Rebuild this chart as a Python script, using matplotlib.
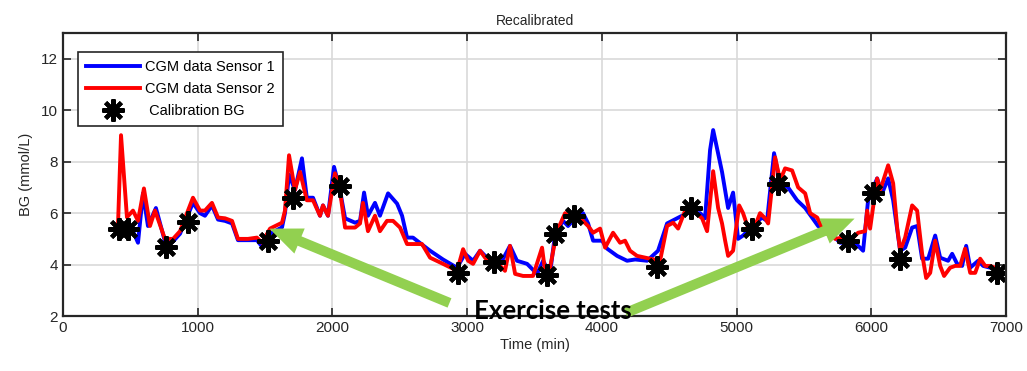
import numpy as np
import matplotlib.pyplot as plt

plt.rcParams['font.family'] = ['Liberation Sans', 'DejaVu Sans']

# Sensor 1 (blue) CGM trace: time (min), BG (mmol/L)
t1 = [408, 475, 520, 557, 594, 631, 690, 757, 817, 869, 965, 1017, 1054, 1106,
      1151, 1203, 1255, 1299, 1373, 1440, 1477, 1537, 1626, 1648, 1678, 1722,
      1774, 1810, 1856, 1908, 1930, 1967, 2012, 2056, 2094, 2168, 2205, 2235,
      2264, 2316, 2353, 2413, 2480, 2517, 2554, 2598, 2725, 2821, 2925, 2984,
      3044, 3096, 3170, 3244, 3318, 3370, 3445, 3519, 3564, 3615, 3653, 3712,
      3749, 3801, 3860, 3898, 3935, 4002, 4039, 4113, 4187, 4247, 4336, 4417,
      4484, 4632, 4729, 4766, 4803, 4826, 4892, 4937, 4974, 5011, 5048, 5137,
      5189, 5226, 5278, 5323, 5382, 5449, 5509, 5560, 5605, 5672, 5716, 5768,
      5828, 5843, 5902, 5939, 5976, 6043, 6080, 6125, 6162, 6214, 6251, 6303,
      6340, 6377, 6422, 6474, 6511, 6570, 6600, 6637, 6674, 6704, 6734, 6793,
      6830, 6882, 6934]
bg1 = [5.4, 5.5, 5.3, 4.85, 6.77, 5.5, 6.2, 4.9, 4.9, 5.2, 6.4, 6.0, 5.9, 6.3,
       5.75, 5.7, 5.6, 4.95, 4.95, 4.95, 4.7, 5.2, 5.45, 6.0, 7.5, 6.9,
       8.13, 6.6, 6.6, 5.9, 6.3, 5.9, 7.8, 6.9, 5.8, 5.63, 5.7, 6.8,
       5.9, 6.4, 5.9, 6.77, 6.37, 5.9, 5.05, 5.05, 4.54, 4.2, 3.88, 4.42,
       4.15, 4.54, 4.15, 4.0, 4.73, 4.15, 4.03, 3.64, 4.15, 3.64, 5.2, 5.7,
       5.5, 5.8, 6.0, 5.6, 4.93, 4.93, 4.62, 4.34, 4.15, 4.2, 4.15, 4.54,
       5.6, 6.0, 6.0, 5.8, 8.45, 9.23, 7.6, 6.2, 6.8, 5.0, 5.13, 5.6,
       5.83, 5.7, 8.33, 7.16, 7.0, 6.5, 6.2, 5.83, 5.5, 5.24, 5.13, 4.85,
       4.85, 4.9, 4.73, 4.54, 6.5, 7.35, 6.77, 7.35, 6.5, 4.54, 4.66, 5.44,
       5.5, 4.23, 4.23, 5.13, 4.27, 4.15, 4.42, 4.03, 3.95, 4.73, 3.88, 4.15,
       3.95, 3.88, 3.85]

# Sensor 2 (red) CGM trace
t2 = [408, 431, 475, 520, 557, 601, 646, 683, 757, 817, 869, 965, 1017, 1054,
      1106, 1151, 1203, 1255, 1299, 1373, 1440, 1477, 1537, 1626, 1648, 1678,
      1722, 1760, 1810, 1856, 1908, 1930, 1967, 2019, 2056, 2094, 2131, 2168,
      2205, 2227, 2264, 2316, 2353, 2405, 2450, 2502, 2554, 2613, 2665, 2725,
      2821, 2925, 2970, 3007, 3044, 3096, 3133, 3185, 3244, 3281, 3318, 3356,
      3415, 3489, 3556, 3578, 3615, 3667, 3727, 3764, 3801, 3898, 3935, 3987,
      4024, 4083, 4135, 4172, 4209, 4261, 4321, 4358, 4432, 4484, 4529, 4566,
      4618, 4677, 4744, 4781, 4826, 4863, 4892, 4915, 4937, 4974, 5019, 5048,
      5100, 5137, 5174, 5212, 5234, 5286, 5323, 5360, 5412, 5457, 5509, 5546,
      5598, 5635, 5672, 5709, 5731, 5783, 5843, 5902, 5954, 5969, 5991, 6043,
      6065, 6125, 6162, 6192, 6214, 6251, 6303, 6340, 6377, 6407, 6437, 6474,
      6511, 6540, 6585, 6622, 6659, 6696, 6734, 6771, 6808, 6845, 6882, 6934]
bg2 = [5.45, 9.03, 5.84, 6.1, 5.7, 6.96, 5.5, 6.1, 5.0, 5.0, 5.3, 6.6, 6.1, 6.1,
       6.4, 5.83, 5.8, 5.7, 5.0, 5.0, 5.05, 4.85, 5.4, 5.63, 6.1, 8.25,
       6.9, 7.6, 6.5, 6.5, 5.9, 6.3, 5.9, 7.55, 6.88, 5.44, 5.44, 5.44,
       5.6, 6.4, 5.3, 5.9, 5.3, 5.7, 5.7, 5.44, 4.8, 4.8, 4.8, 4.27,
       4.03, 3.76, 4.6, 4.15, 4.03, 4.54, 4.27, 3.95, 3.95, 3.76, 4.73, 3.64,
       3.56, 3.56, 4.66, 3.76, 3.88, 5.3, 6.0, 5.83, 6.0, 5.5, 5.24, 5.4,
       4.66, 5.24, 4.85, 4.93, 4.54, 4.34, 4.27, 4.23, 4.15, 5.5, 5.63, 5.4,
       6.1, 6.1, 5.8, 5.3, 7.63, 6.2, 5.6, 4.93, 4.34, 4.54, 6.3, 6.0,
       5.2, 5.5, 6.0, 5.8, 5.6, 8.17, 7.27, 7.74, 7.66, 7.0, 6.77, 6.0,
       5.83, 5.44, 5.2, 5.2, 5.0, 5.05, 4.93, 5.24, 5.3, 6.1, 5.4, 7.35,
       6.88, 7.86, 7.16, 5.44, 4.54, 5.05, 6.3, 6.1, 4.42, 3.48, 3.68, 4.93,
       3.95, 3.56, 3.88, 3.95, 3.95, 4.62, 3.68, 3.68, 4.23, 3.95, 3.95, 3.85]

# Fingerstick calibration points
t_cal = [416, 483, 765, 928, 1522, 1707, 2056, 2932, 3200, 3593, 3652, 3794,
         4410, 4662, 5115, 5308, 5828, 6013, 6214, 6934]
bg_cal = [5.4, 5.4, 4.7, 5.67, 4.9, 6.57, 7.04, 3.68, 4.1, 3.6, 5.2, 5.9,
          3.9, 6.2, 5.4, 7.15, 4.9, 6.8, 4.2, 3.68]

green = '#92d050'

fig = plt.figure(figsize=(10.27, 3.71), dpi=100)
ax = fig.add_axes([0.0613, 0.148, 0.9183, 0.763])

ax.plot(t1, bg1, color='#0000ff', lw=2.8, label='CGM data Sensor 1')
ax.plot(t2, bg2, color='#ff0000', lw=2.8, label='CGM data Sensor 2')
ax.plot(t_cal, bg_cal, ls='none', marker=(8, 2, 0), ms=16, mew=3,
        color='black', label=' Calibration BG')

ax.set_xlim(0, 7000)
ax.set_ylim(2, 13)
ax.set_xticks(np.arange(0, 7001, 1000))
ax.set_yticks(np.arange(2, 13, 2))
ax.grid(True, color='#d9d9d9', lw=1.2)
ax.set_axisbelow(True)
ax.tick_params(direction='in', length=6, width=1.2, top=True, right=True,
               labelsize=11, colors='#262626')
for s in ax.spines.values():
    s.set_linewidth(1.6)
    s.set_color('#262626')

ax.set_title('Recalibrated', fontsize=10, color='#262626', pad=6)
ax.set_xlabel('Time (min)', fontsize=10.5, color='#262626', labelpad=2)
ax.set_ylabel('BG (mmol/L)', fontsize=10.5, color='#262626', labelpad=6)

leg = ax.legend(loc='upper left', bbox_to_anchor=(0.0159, 0.933),
                borderaxespad=0, fontsize=10.5, handlelength=3.7,
                fancybox=False, framealpha=1, edgecolor='#262626',
                borderpad=0.55, labelspacing=0.55, handletextpad=0.35)
leg.get_frame().set_linewidth(1.2)

# arrows pointing at the two exercise sessions
arrow = dict(arrowstyle='simple,head_length=0.9,head_width=0.75,tail_width=0.28',
             mutation_scale=26, color=green, lw=0)
ax.annotate('', xy=(1514, 5.44), xytext=(2888, 2.47), arrowprops=arrow,
            annotation_clip=False)
ax.annotate('', xy=(5895, 5.83), xytext=(4157, 2.08), arrowprops=arrow,
            annotation_clip=False)
ax.text(3638, 2.2, 'Exercise tests', fontsize=18.5, fontweight='bold',
        family=['Lato', 'DejaVu Sans'], ha='center', va='center',
        clip_on=False, zorder=10)

plt.savefig('out.png', dpi=100)
